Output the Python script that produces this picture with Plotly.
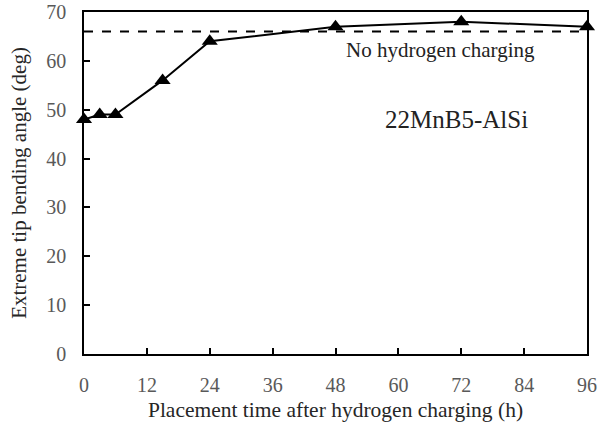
import plotly.graph_objects as go

hours = [0, 3, 6, 15, 24, 48, 72, 96]
angle = [48, 49, 49, 56, 64, 67, 68, 67]
ref_angle = 66
x_ticks = [0, 12, 24, 36, 48, 60, 72, 84, 96]
y_ticks = [0, 10, 20, 30, 40, 50, 60, 70]

font_family = "Liberation Serif"

fig = go.Figure()
fig.add_trace(go.Scatter(
    x=[0, 96], y=[ref_angle, ref_angle], mode="lines",
    line=dict(color="black", width=2, dash="dash"), showlegend=False,
    cliponaxis=False))
fig.add_trace(go.Scatter(
    x=hours, y=angle, mode="lines+markers",
    line=dict(color="black", width=2),
    marker=dict(symbol="triangle-up", size=14, color="black"),
    showlegend=False, cliponaxis=False))

fig.add_annotation(x=68.1, y=62.2, text="No hydrogen charging",
                   showarrow=False, font=dict(family=font_family, size=21, color="#222"))
fig.add_annotation(x=71.0, y=47.9, text="22MnB5-AlSi",
                   showarrow=False, font=dict(family=font_family, size=25, color="#222"))

axis_common = dict(showline=True, linecolor="black", linewidth=1.5, mirror=True,
                   ticks="inside", ticklen=6, tickwidth=1.5, tickcolor="black",
                   showgrid=False, zeroline=False, automargin=False,
                   ticklabelstandoff=12,
                   tickfont=dict(family=font_family, size=20, color="#595959"))

fig.update_xaxes(range=[0, 96], tickvals=x_ticks,
                 title=dict(text="Placement time after hydrogen charging (h)",
                            font=dict(family=font_family, size=21.5, color="#262626"),
                            standoff=7),
                 **axis_common)
fig.update_yaxes(range=[0, 70], tickvals=y_ticks,
                 title=dict(text="Extreme tip bending angle (deg)",
                            font=dict(family=font_family, size=21, color="#262626"),
                            standoff=14),
                 **axis_common)

fig.update_layout(width=601, height=424, margin=dict(l=84, r=14, t=12, b=70),
                  plot_bgcolor="white", paper_bgcolor="white",
                  font=dict(family=font_family))

fig.write_html("out.html", config={"displayModeBar": False},
               post_script="document.body.style.margin='0';")
